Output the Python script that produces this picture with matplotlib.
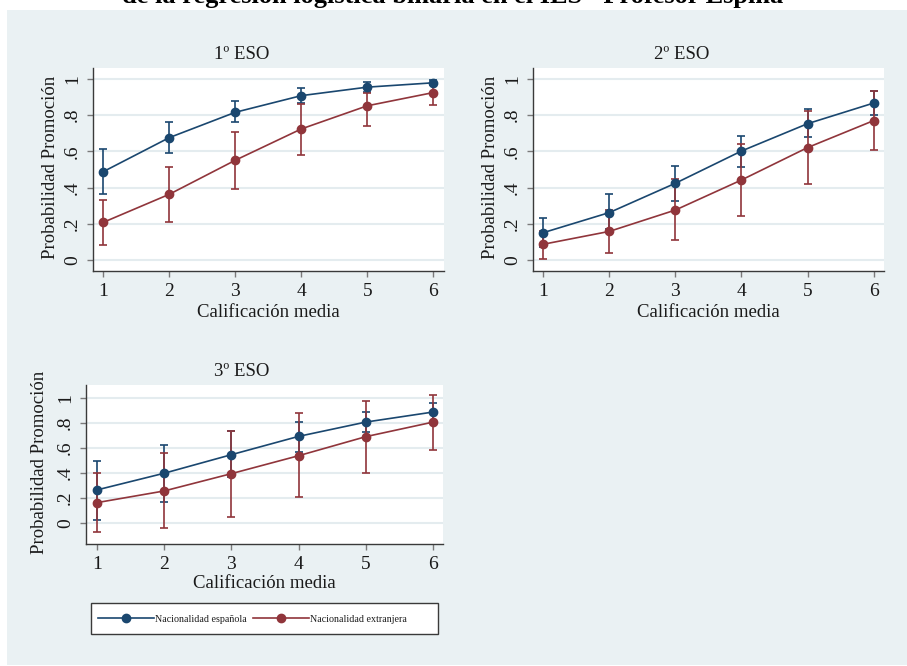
import matplotlib
matplotlib.use("Agg")
import matplotlib.pyplot as plt
from matplotlib.patches import Rectangle
from matplotlib.lines import Line2D
import numpy as np

plt.rcParams['font.family'] = ['Liberation Serif', 'DejaVu Serif']

# ---------------- data ----------------
grades = [1, 2, 3, 4, 5, 6]
yticks = [0, 0.2, 0.4, 0.6, 0.8, 1.0]
ytick_labels = ["0", ".2", ".4", ".6", ".8", "1"]
series_names = ["Nacionalidad española", "Nacionalidad extranjera"]
panel_titles = ["1º ESO", "2º ESO", "3º ESO"]

# 1º ESO
eso1_esp = [0.488, 0.676, 0.816, 0.908, 0.955, 0.979]
eso1_esp_lo = [0.366, 0.589, 0.761, 0.867, 0.930, 0.965]
eso1_esp_hi = [0.615, 0.761, 0.877, 0.950, 0.983, 0.994]
eso1_ext = [0.208, 0.363, 0.551, 0.724, 0.852, 0.925]
eso1_ext_lo = [0.085, 0.210, 0.394, 0.580, 0.742, 0.855]
eso1_ext_hi = [0.331, 0.512, 0.707, 0.862, 0.925, 0.975]

# 2º ESO
eso2_esp = [0.151, 0.262, 0.424, 0.602, 0.753, 0.867]
eso2_esp_lo = [0.070, 0.170, 0.328, 0.514, 0.680, 0.799]
eso2_esp_hi = [0.232, 0.363, 0.519, 0.685, 0.832, 0.932]
eso2_ext = [0.087, 0.158, 0.276, 0.442, 0.621, 0.770]
eso2_ext_lo = [0.006, 0.037, 0.110, 0.243, 0.420, 0.608]
eso2_ext_hi = [0.160, 0.276, 0.446, 0.643, 0.823, 0.932]

# 3º ESO
eso3_esp = [0.265, 0.398, 0.546, 0.692, 0.806, 0.886]
eso3_esp_lo = [0.029, 0.167, 0.371, 0.565, 0.724, 0.809]
eso3_esp_hi = [0.496, 0.623, 0.735, 0.809, 0.886, 0.955]
eso3_ext = [0.164, 0.257, 0.395, 0.538, 0.690, 0.806]
eso3_ext_lo = [-0.072, -0.040, 0.050, 0.210, 0.403, 0.586]
eso3_ext_hi = [0.398, 0.562, 0.732, 0.881, 0.973, 1.019]

panels = [
    (eso1_esp, eso1_esp_lo, eso1_esp_hi, eso1_ext, eso1_ext_lo, eso1_ext_hi),
    (eso2_esp, eso2_esp_lo, eso2_esp_hi, eso2_ext, eso2_ext_lo, eso2_ext_hi),
    (eso3_esp, eso3_esp_lo, eso3_esp_hi, eso3_ext, eso3_ext_lo, eso3_ext_hi),
]

# ---------------- styling ----------------
W, H = 907, 666
BLUE = "#1A476F"
RED = "#90353B"
BG = "#EAF1F3"
GRID = "#E4ECEF"
TXT = "#1a1a1a"
FS = 13.5


def fx(x):
    return x / W


def fy(y):
    return 1 - y / H


fig = plt.figure(figsize=(W / 100, H / 100), dpi=100)
fig.patch.set_facecolor("white")
fig.patches.append(Rectangle((fx(7), fy(665)), (W - 7) / W, (665 - 10) / H,
                             transform=fig.transFigure, facecolor=BG,
                             edgecolor="none", zorder=-10))

# main title (cut off at top in reference)
fig.text(fx(122), fy(3), 'de la regresión logística binaria en el IES "Profesor Espina"',
         fontsize=19, fontweight="bold", ha="left", va="baseline", color="black")

layout = [
    dict(l=92.7, r=444.0, t=67.7, b=271.0, xlim=(0.84, 6.162), ylim=(-0.0608, 1.0624),
         title=(241.7, 59.3), xlab=(268.4, 317.3), ylab=(50.7, 167.8)),
    dict(l=532.7, r=884.3, t=67.7, b=271.0, xlim=(0.84, 6.162), ylim=(-0.0608, 1.0624),
         title=(681.7, 59.3), xlab=(708.5, 317.3), ylab=(490.8, 167.8)),
    dict(l=85.7, r=443.3, t=385.0, b=544.0, xlim=(0.837, 6.149), ylim=(-0.165, 1.101),
         title=(241.7, 375.7), xlab=(264.5, 588.3), ylab=(39.3, 462.0)),
]

for i, (lay, data) in enumerate(zip(layout, panels)):
    ax = fig.add_axes([fx(lay["l"]), fy(lay["b"]), (lay["r"] - lay["l"]) / W,
                       (lay["b"] - lay["t"]) / H])
    ax.set_zorder(2)
    ax.set_facecolor("white")
    esp, esp_lo, esp_hi, ext, ext_lo, ext_hi = [np.array(d) for d in data]
    for (yv, lo, hi, col) in [(esp, esp_lo, esp_hi, BLUE), (ext, ext_lo, ext_hi, RED)]:
        ax.errorbar(grades, yv, yerr=[yv - lo, hi - yv], fmt="-o", color=col,
                    ecolor=col, elinewidth=1.2, capsize=3, capthick=1.2,
                    lw=1.2, markersize=6, zorder=3)
    ax.set_xlim(*lay["xlim"])
    ax.set_ylim(*lay["ylim"])
    ax.set_xticks(grades)
    ax.set_xticklabels([str(g) for g in grades])
    ax.set_yticks(yticks)
    ax.set_yticklabels(ytick_labels, rotation=90, va="center")
    ax.yaxis.grid(True, color=GRID, lw=1.5, zorder=0)
    ax.set_axisbelow(True)
    for s in ["top", "right"]:
        ax.spines[s].set_visible(False)
    for s in ["left", "bottom"]:
        ax.spines[s].set_color("#3a3a3a")
        ax.spines[s].set_linewidth(1.0)
    ax.tick_params(axis="both", length=4.5, width=1.0, color="#7a7a7a",
                   labelsize=14, labelcolor=TXT)
    ax.tick_params(axis="x", pad=4)
    ax.tick_params(axis="y", pad=4)

    fig.text(fx(lay["title"][0]), fy(lay["title"][1]), panel_titles[i], fontsize=FS,
             ha="center", va="baseline", color=TXT)
    fig.text(fx(lay["xlab"][0]), fy(lay["xlab"][1]), "Calificación media", fontsize=FS,
             ha="center", va="baseline", color=TXT)
    fig.text(fx(lay["ylab"][0]), fy(lay["ylab"][1]), "Probabilidad Promoción", fontsize=FS,
             ha="center", va="center", rotation=90, color=TXT)

# legend
fig.patches.append(Rectangle((fx(91), fy(634.3)), (438 - 91) / W, (634.3 - 602.7) / H,
                             transform=fig.transFigure, facecolor="white",
                             edgecolor="#3a3a3a", lw=1.0, zorder=1))
leg_handles = [Line2D([], [], color=BLUE, marker="o", lw=1.2, markersize=6),
               Line2D([], [], color=RED, marker="o", lw=1.2, markersize=6)]
leg = fig.legend(leg_handles, series_names, loc="center left",
                 bbox_to_anchor=(fx(98), fy(619)), ncol=2, frameon=False,
                 fontsize=7.2, handlelength=5.6, handletextpad=0.1,
                 columnspacing=0.6, borderpad=0, borderaxespad=0, numpoints=1)
for t in leg.get_texts():
    t.set_color(TXT)
leg.set_zorder(5)

fig.savefig("out.png", dpi=100)
